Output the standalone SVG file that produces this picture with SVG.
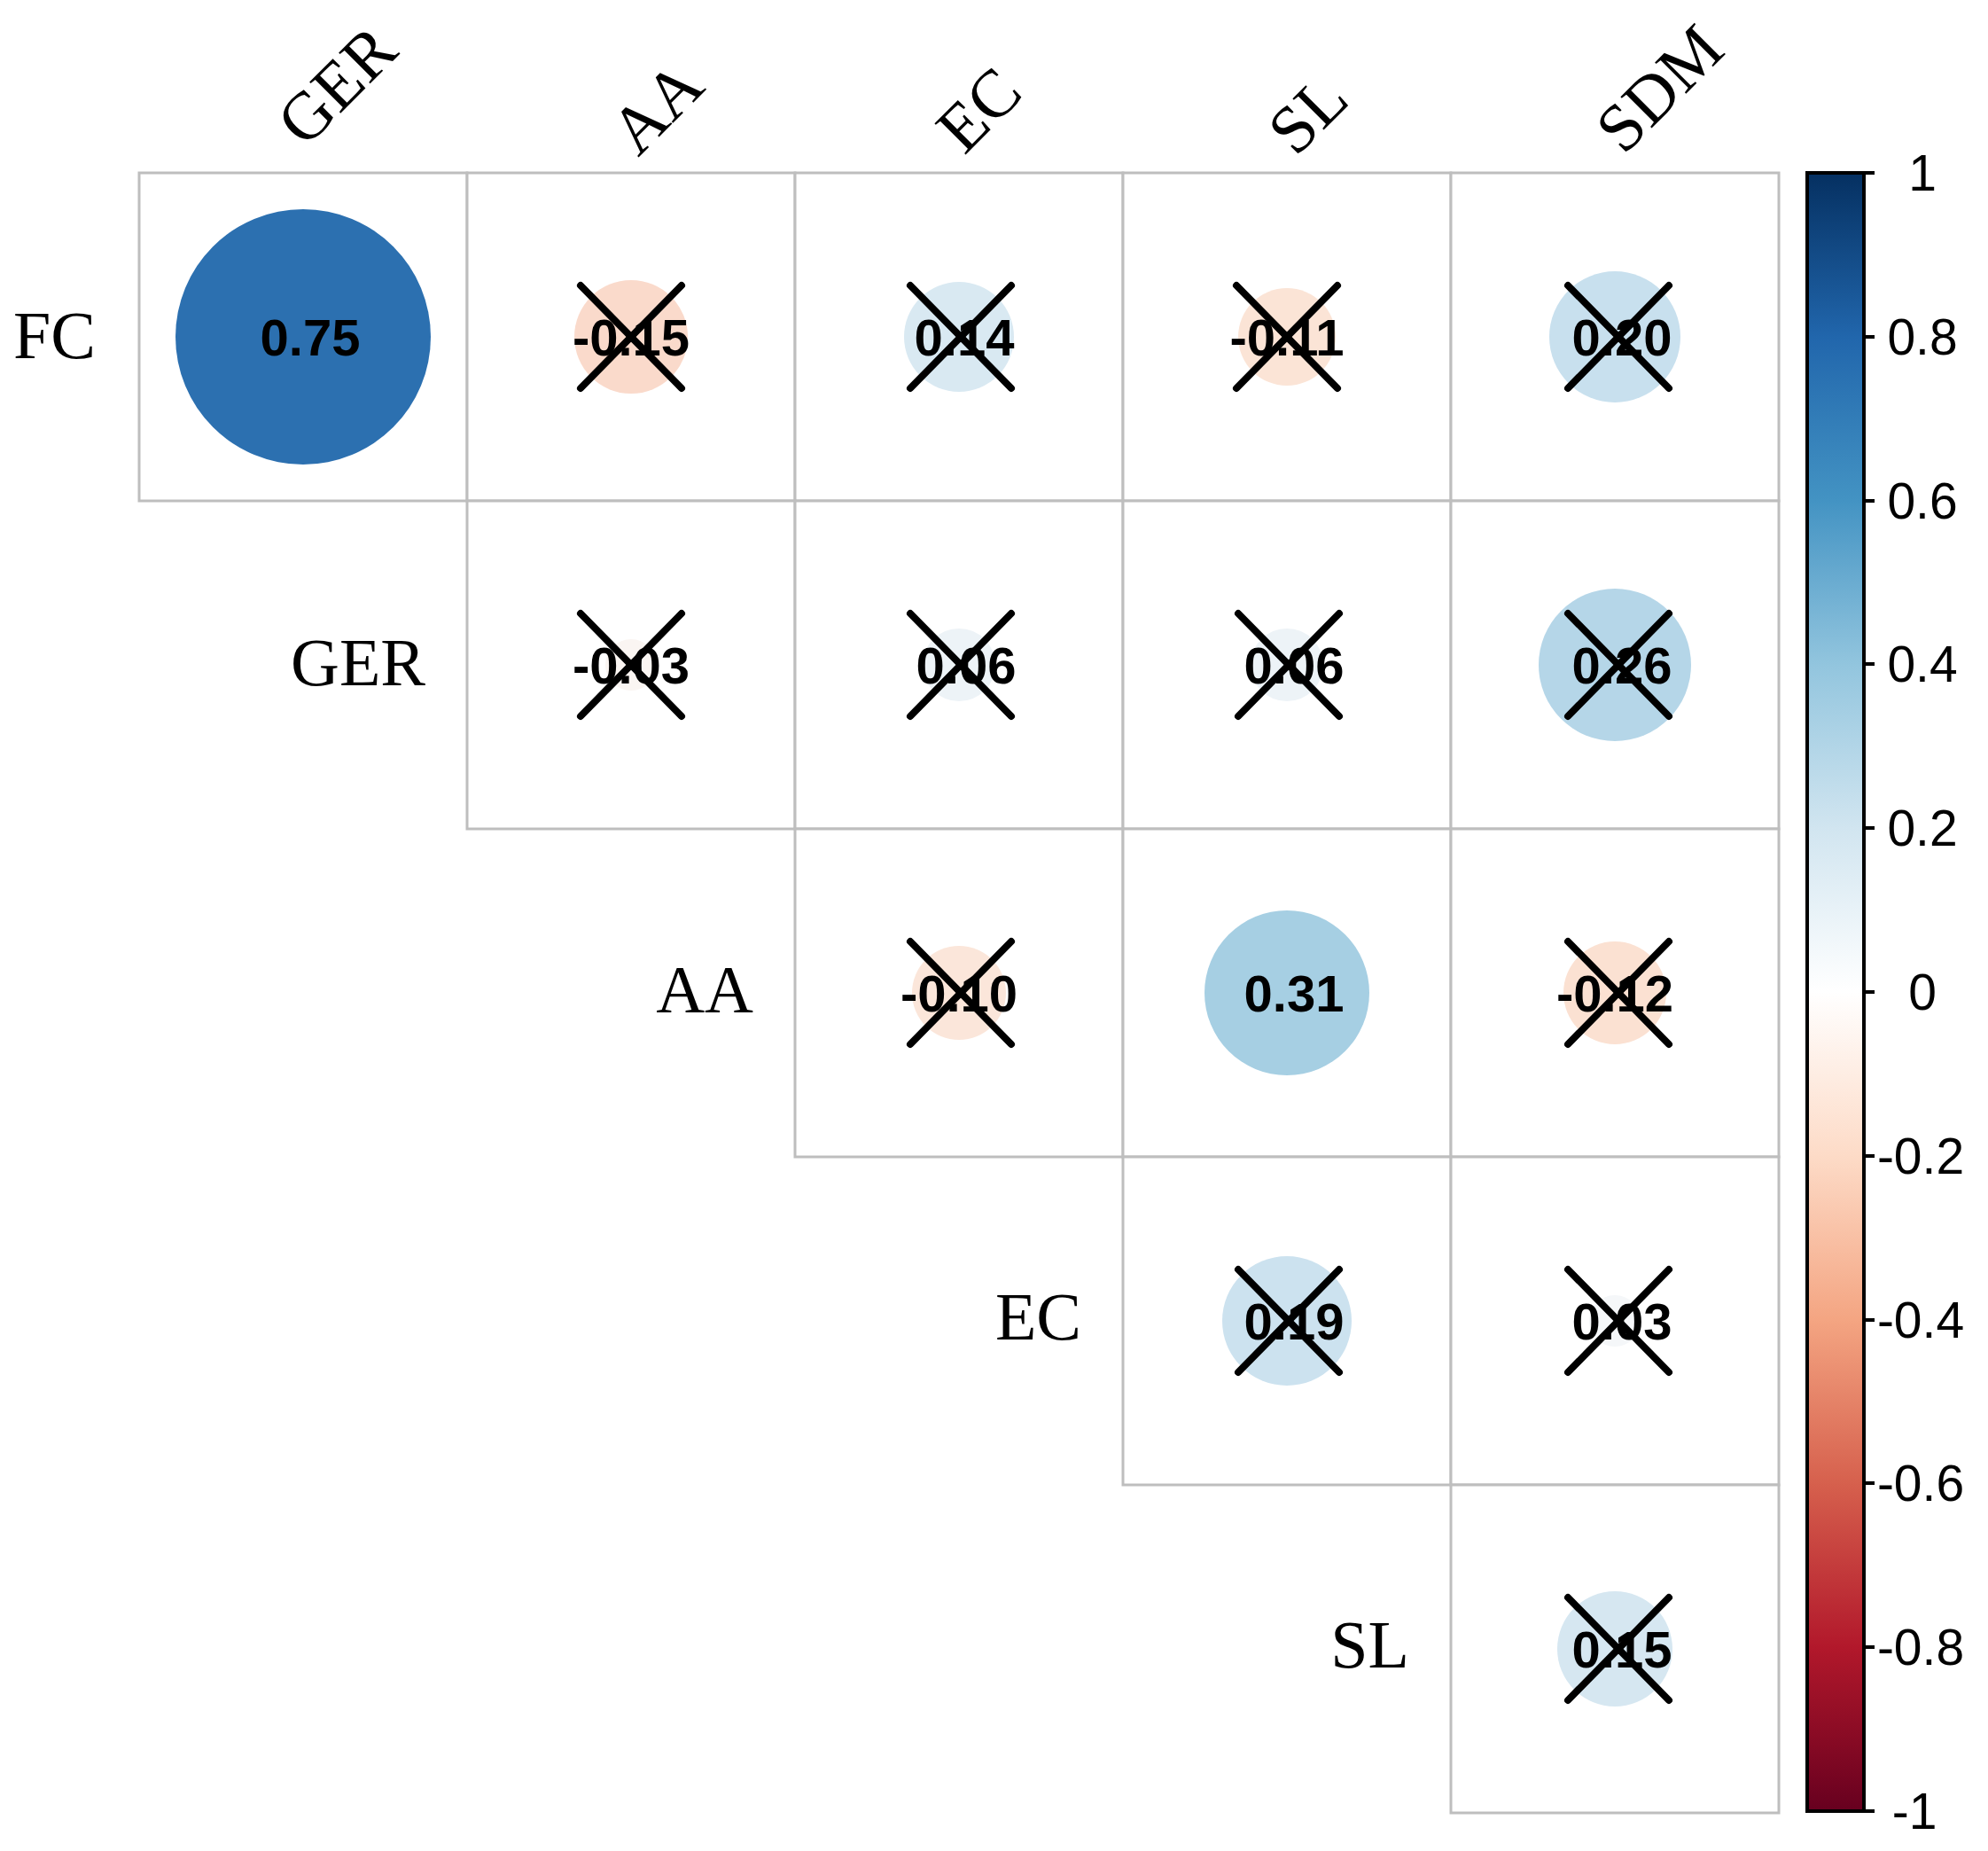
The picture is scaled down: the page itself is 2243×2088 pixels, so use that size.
<svg xmlns="http://www.w3.org/2000/svg" width="2243" height="2088" viewBox="0 0 2243 2088">
<style>
.cell{fill:#fff;stroke:#BEBEBE;stroke-width:3}
.v{font-family:"Liberation Sans",Arial,sans-serif;font-weight:bold;font-size:58px;text-anchor:middle}
.x{stroke:#000;stroke-width:8;stroke-linecap:round}
.lab{font-family:"Liberation Serif","Times New Roman",serif;font-size:76px}
.t{font-family:"Liberation Sans",Arial,sans-serif;font-size:57px;text-anchor:middle}
</style>
<defs>
<linearGradient id="g" x1="0" y1="0" x2="0" y2="1">
<stop offset="0" stop-color="#053061"/><stop offset="0.1" stop-color="#2166AC"/><stop offset="0.2" stop-color="#4393C3"/><stop offset="0.3" stop-color="#92C5DE"/><stop offset="0.4" stop-color="#D1E5F0"/><stop offset="0.5" stop-color="#FFFFFF"/><stop offset="0.6" stop-color="#FDDBC7"/><stop offset="0.7" stop-color="#F4A582"/><stop offset="0.8" stop-color="#D6604D"/><stop offset="0.9" stop-color="#B2182B"/><stop offset="1" stop-color="#67001F"/>
</linearGradient>
<g id="xm"><line class="x" x1="-57" y1="-58" x2="57" y2="58"/><line class="x" x1="57" y1="-58" x2="-57" y2="58"/></g>
</defs>
<rect width="2243" height="2088" fill="#fff"/>
<g id="grid">
<rect class="cell" x="157" y="195" width="370" height="370"/><rect class="cell" x="527" y="195" width="370" height="370"/><rect class="cell" x="897" y="195" width="370" height="370"/><rect class="cell" x="1267" y="195" width="370" height="370"/><rect class="cell" x="1637" y="195" width="370" height="370"/>
<rect class="cell" x="527" y="565" width="370" height="370"/><rect class="cell" x="897" y="565" width="370" height="370"/><rect class="cell" x="1267" y="565" width="370" height="370"/><rect class="cell" x="1637" y="565" width="370" height="370"/>
<rect class="cell" x="897" y="935" width="370" height="370"/><rect class="cell" x="1267" y="935" width="370" height="370"/><rect class="cell" x="1637" y="935" width="370" height="370"/>
<rect class="cell" x="1267" y="1305" width="370" height="370"/><rect class="cell" x="1637" y="1305" width="370" height="370"/>
<rect class="cell" x="1637" y="1675" width="370" height="370"/>
</g>
<g id="c00"><circle cx="342" cy="380" r="144" fill="#2C70B0"/><text class="v" x="350" y="401">0.75</text></g>
<g id="c01"><circle cx="712" cy="380" r="64" fill="#FADACB"/><text class="v" x="712" y="401">-0.15</text><use href="#xm" x="712" y="380"/></g>
<g id="c02"><circle cx="1082" cy="380" r="62" fill="#D9E9F2"/><text class="v" x="1088" y="401">0.14</text><use href="#xm" x="1084" y="380"/></g>
<g id="c03"><circle cx="1452" cy="380" r="55" fill="#FBE4D6"/><text class="v" x="1452" y="401">-0.11</text><use href="#xm" x="1452" y="380"/></g>
<g id="c04"><circle cx="1822" cy="380" r="74" fill="#C8E0EE"/><text class="v" x="1830" y="401">0.20</text><use href="#xm" x="1826" y="380"/></g>
<g id="c11"><circle cx="712" cy="750" r="29" fill="#FAF5F2"/><text class="v" x="712" y="771">-0.03</text><use href="#xm" x="712" y="750"/></g>
<g id="c12"><circle cx="1082" cy="750" r="41" fill="#EDF3F7"/><text class="v" x="1090" y="771">0.06</text><use href="#xm" x="1084" y="750"/></g>
<g id="c13"><circle cx="1452" cy="750" r="41" fill="#EDF3F7"/><text class="v" x="1460" y="771">0.06</text><use href="#xm" x="1454" y="750"/></g>
<g id="c14"><circle cx="1822" cy="750" r="86" fill="#B5D6E8"/><text class="v" x="1830" y="771">0.26</text><use href="#xm" x="1826" y="750"/></g>
<g id="c22"><circle cx="1082" cy="1120" r="53" fill="#FBE6DA"/><text class="v" x="1082" y="1141">-0.10</text><use href="#xm" x="1084" y="1120"/></g>
<g id="c23"><circle cx="1452" cy="1120" r="93" fill="#A6CFE3"/><text class="v" x="1460" y="1141">0.31</text></g>
<g id="c24"><circle cx="1822" cy="1120" r="58" fill="#FBE1D2"/><text class="v" x="1822" y="1141">-0.12</text><use href="#xm" x="1826" y="1120"/></g>
<g id="c33"><circle cx="1452" cy="1490" r="73" fill="#CCE2EF"/><text class="v" x="1460" y="1511">0.19</text><use href="#xm" x="1454" y="1490"/></g>
<g id="c34"><circle cx="1822" cy="1490" r="29" fill="#F5F7F9"/><text class="v" x="1830" y="1511">0.03</text><use href="#xm" x="1826" y="1490"/></g>
<g id="c44"><circle cx="1822" cy="1860" r="65" fill="#D6E7F1"/><text class="v" x="1830" y="1881">0.15</text><use href="#xm" x="1826" y="1860"/></g>
<g id="collabels">
<text class="lab" transform="translate(344,168) rotate(-45)">GER</text>
<text class="lab" transform="translate(720,178) rotate(-45)">AA</text>
<text class="lab" transform="translate(1088,176) rotate(-45)">EC</text>
<text class="lab" transform="translate(1462,178) rotate(-45)">SL</text>
<text class="lab" transform="translate(1832,176) rotate(-45)">SDM</text>
</g>
<g id="rowlabels" text-anchor="end">
<text class="lab" x="108" y="404">FC</text>
<text class="lab" x="480" y="773">GER</text>
<text class="lab" x="850" y="1142">AA</text>
<text class="lab" x="1220" y="1511">EC</text>
<text class="lab" x="1590" y="1881">SL</text>
</g>
<g id="colorbar">
<rect x="2039" y="195" width="64" height="1848" fill="url(#g)" stroke="#000" stroke-width="4"/>
<g stroke="#000" stroke-width="4">
<line x1="2103" y1="195" x2="2115" y2="195"/><line x1="2103" y1="380" x2="2115" y2="380"/><line x1="2103" y1="565" x2="2115" y2="565"/><line x1="2103" y1="749" x2="2115" y2="749"/><line x1="2103" y1="934" x2="2115" y2="934"/><line x1="2103" y1="1119" x2="2115" y2="1119"/><line x1="2103" y1="1304" x2="2115" y2="1304"/><line x1="2103" y1="1489" x2="2115" y2="1489"/><line x1="2103" y1="1673" x2="2115" y2="1673"/><line x1="2103" y1="1858" x2="2115" y2="1858"/><line x1="2103" y1="2043" x2="2115" y2="2043"/>
</g>
<text class="t" x="2169" y="215">1</text><text class="t" x="2169" y="400">0.8</text><text class="t" x="2169" y="585">0.6</text><text class="t" x="2169" y="769">0.4</text><text class="t" x="2169" y="954">0.2</text><text class="t" x="2169" y="1139">0</text><text class="t" x="2167" y="1324">-0.2</text><text class="t" x="2167" y="1509">-0.4</text><text class="t" x="2167" y="1693">-0.6</text><text class="t" x="2167" y="1878">-0.8</text><text class="t" x="2160" y="2063">-1</text>
</g>
</svg>
